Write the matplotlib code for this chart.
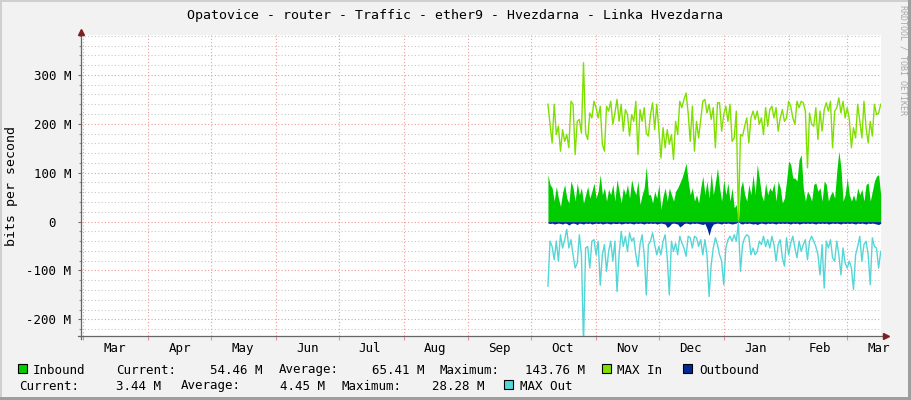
import numpy as np
import matplotlib
matplotlib.use('Agg')
import matplotlib.pyplot as plt
from matplotlib.patches import Rectangle
from matplotlib.ticker import MultipleLocator, FixedLocator

# ---- data (values in M bits per second, one value per day) ----
first_day = 222  # days after 1 Mar (9 Oct)

inbound = [96, 76, 69, 42, 72, 48, 31, 59, 76, 48,
           38, 83, 69, 42, 79, 55, 69, 38, 55, 72,
           48, 62, 79, 48, 62, 96, 55, 69, 42, 66,
           55, 76, 42, 86, 62, 38, 69, 55, 76, 48,
           86, 66, 55, 83, 35, 55, 69, 113, 55, 55,
           38, 62, 48, 76,
           25, 52, 69, 42, 69, 55, 42, 62, 69, 79,
           89, 103, 120, 83, 55, 69, 42, 55, 38, 69,
           93, 55, 83, 48, 100, 55, 79, 110, 69, 42,
           86, 55, 79, 42, 69, 28, 35, 0, 69, 83,
           55, 42, 76, 55, 96, 55, 117, 89, 55, 42,
           79, 55, 69, 62, 79,
           42, 83, 69, 38, 48, 83, 124, 117, 89, 89,
           83, 127, 137, 69, 42, 62, 55, 42, 76, 79,
           62, 69, 42, 83, 76, 42, 55, 62, 48, 103,
           143.76, 110, 42, 55, 89, 55, 42, 55, 42, 69,
           55, 66, 42, 76, 79, 42, 62, 83, 93, 96, 54.46]

max_in = [240, 199, 161, 240, 178, 195, 144, 188, 164, 178,
          151, 246, 240, 137, 205, 209, 181, 325, 181, 168,
          222, 212, 246, 233, 212, 236, 158, 144, 236, 226,
          246, 199, 222, 250, 205, 240, 185, 229, 219, 175,
          219, 205, 246, 137, 229, 205, 233, 181, 175, 219,
          243, 188, 240, 188,
          130, 192, 151, 188, 158, 178, 127, 205, 178, 246,
          233, 250, 263, 222, 164, 236, 144, 205, 171, 209,
          246, 250, 222, 240, 209, 233, 151, 243, 243, 185,
          219, 236, 205, 240, 164, 171, 226, 5, 178, 175,
          195, 212, 161, 212, 226, 209, 226, 199, 212, 178,
          233, 195, 229, 236, 212,
          233, 185, 212, 229, 205, 212, 246, 236, 212, 199,
          246, 233, 246, 243, 226, 110, 222, 199, 195, 233,
          168, 226, 185, 229, 243, 226, 246, 151, 226, 233,
          253, 222, 246, 212, 233, 209, 151, 192, 171, 240,
          205, 171, 246, 192, 161, 205, 175, 240, 219, 222, 240]

outbound = [3, 4, 3, 5, 4, 3, 4, 5, 3, 4,
            7, 4, 3, 4, 6, 3, 4, 5, 3, 4,
            3, 5, 4, 3, 4, 3, 5, 4, 3, 4,
            5, 3, 4, 4, 3, 5, 4, 3, 4, 3,
            4, 5, 3, 4, 3, 4, 5, 3, 4, 3,
            4, 3, 5, 4, 3, 4, 5, 12, 9, 4,
            3, 4, 5, 11, 8, 4, 3, 4, 5, 3,
            4, 3, 4, 5, 6, 4, 14, 28.28, 12, 5,
            4, 3, 4, 5, 3, 4, 3, 4, 5, 4,
            3, 0.5, 4, 5, 3, 4, 3, 4, 5, 4,
            6, 4, 3, 4, 5, 3, 4, 3, 4, 5,
            3, 4, 3, 4, 3, 4, 5, 3, 4, 3,
            5, 4, 3, 4, 3, 4, 3, 4, 5, 3,
            4, 3, 4, 3, 5, 4, 3, 4, 3, 4,
            5, 3, 4, 3, 4, 3, 4, 5, 3, 4,
            3, 4, 5, 3, 4, 3, 4, 5, 6, 3.44]

max_out = [132, 40, 51, 78, 40, 81, 27, 54, 37, 16,
           54, 37, 68, 95, 85, 27, 68, 250, 54, 51,
           95, 40, 37, 68, 40, 130, 68, 47, 102, 61,
           40, 81, 40, 143, 68, 20, 51, 30, 61, 23,
           40, 33, 68, 92, 47, 27, 68, 150, 47, 40,
           23, 47, 68, 51,
           68, 40, 27, 74, 150, 40, 61, 44, 68, 30,
           44, 54, 71, 30, 33, 54, 30, 33, 51, 37,
           68, 37, 68, 153, 88, 54, 33, 47, 68, 81,
           129, 54, 37, 30, 40, 27, 40, 3, 102, 47,
           33, 27, 30, 68, 54, 68, 61, 40, 47, 30,
           51, 37, 54, 30, 47,
           81, 47, 37, 74, 91, 33, 68, 44, 30, 54,
           74, 40, 61, 47, 37, 78, 40, 30, 40, 51,
           68, 109, 47, 136, 40, 54, 37, 74, 81, 40,
           68, 109, 54, 85, 95, 81, 95, 139, 68, 51,
           30, 81, 47, 40, 68, 129, 33, 51, 54, 95, 61]

month_names = ['Mar', 'Apr', 'May', 'Jun', 'Jul', 'Aug', 'Sep',
               'Oct', 'Nov', 'Dec', 'Jan', 'Feb', 'Mar']
month_lengths = [31, 30, 31, 30, 31, 31, 30, 31, 30, 31, 31, 28]

y_ticks = [-200, -100, 0, 100, 200, 300]
y_tick_labels = ['-200 M', '-100 M', '0  ', '100 M', '200 M', '300 M']

title = 'Opatovice - router - Traffic - ether9 - Hvezdarna - Linka Hvezdarna'

# legend rows: (label, x position in px)
legend_row1 = [('Inbound', 33), ('Current:', 116), ('Average:', 279), ('Maximum:', 440),
               ('MAX In', 617), ('Outbound', 699)]
legend_row1_nums = [('54.46 M', 263), ('65.41 M', 424), ('143.76 M', 585)]
legend_row2 = [('Current:', 19), ('Average:', 181), ('Maximum:', 342), ('MAX Out', 520)]
legend_row2_nums = [('3.44 M', 161), ('4.45 M', 325), ('28.28 M', 485)]

# ---- colours ----
c_in = '#00cc00'
c_maxin = '#7fe000'
c_out = '#002a97'
c_maxout = '#55d6d6'

W, H = 911, 400
MONO = 'DejaVu Sans Mono'

fig = plt.figure(figsize=(W / 100, H / 100), dpi=100, facecolor='#f2f2f2')


def fx(x):
    return x / W


def fy(y):
    return 1 - y / H


# plot area in px: x 80.5..880.5, y 35..336
ax = fig.add_axes([fx(80.5), fy(336), 800 / W, 301 / H])
ax.set_facecolor('white')

days = first_day + np.arange(len(inbound))
month_starts = np.concatenate([[0], np.cumsum(month_lengths)])

ax.fill_between(days, 0, inbound, color=c_in, lw=0, zorder=2)
ax.plot(days, max_in, color=c_maxin, lw=1.0, zorder=3)
ax.fill_between(days, 0, -np.array(outbound), color=c_out, lw=0, zorder=4)
ax.plot(days, -np.array(max_out), color=c_maxout, lw=1.0, zorder=5)

ax.set_xlim(-1.34, 380.9)
ax.set_ylim(-234, 381.6)

# grid
ax.set_axisbelow(True)
ax.xaxis.set_major_locator(FixedLocator(month_starts))
ax.xaxis.set_minor_locator(FixedLocator(month_starts + 15))
ax.set_xticklabels([], minor=False)
ax.set_xticklabels(month_names, minor=True, family=MONO, fontsize=9)
ax.yaxis.set_major_locator(FixedLocator(y_ticks))
ax.yaxis.set_minor_locator(MultipleLocator(20))
ax.set_yticklabels(y_tick_labels, family=MONO, fontsize=9)

ax.grid(which='major', axis='both', color='#f19a9a', lw=0.8, ls=(0, (1, 2)))
ax.grid(which='minor', axis='y', color='#c8c8c8', lw=0.8, ls=(0, (1, 2)))

ax.tick_params(axis='x', which='major', length=3, color='#e89090', width=0.8)
ax.tick_params(axis='x', which='minor', length=0, pad=4)
ax.tick_params(axis='y', which='major', length=2.5, color='#707070', width=0.8, pad=4)
ax.tick_params(axis='y', which='minor', length=1.5, color='#909090', width=0.8)

for s in ax.spines.values():
    s.set_visible(False)

# axes with arrows
axis_col = '#666666'
arrow_col = '#7f1f1f'
ax.plot([-3 / 800, 1 + 4 / 800], [0, 0], transform=ax.transAxes, color=axis_col,
        lw=0.9, clip_on=False, zorder=6)
ax.plot([0, 0], [-3 / 301, 1 + 2 / 301], transform=ax.transAxes, color=axis_col,
        lw=0.9, clip_on=False, zorder=6)
ax.plot([1 + 5 / 800], [0], marker='>', ms=4.5, color=arrow_col, transform=ax.transAxes,
        clip_on=False, zorder=7, mec=arrow_col)
ax.plot([0], [1 + 3 / 301], marker='^', ms=4.5, color=arrow_col, transform=ax.transAxes,
        clip_on=False, zorder=7, mec=arrow_col)

# texts
fig.text(fx(455), fy(19.5), title, ha='center', va='baseline', family=MONO, fontsize=9.5)
fig.text(fx(12), fy(186), 'bits per second', rotation=90, ha='center', va='center',
         family=MONO, fontsize=9.5)
fig.text(fx(903), fy(5), 'RRDTOOL / TOBI OETIKER', rotation=270, ha='center', va='top',
         family=MONO, fontsize=6, color='#a8a8a8')

for label, x in legend_row1:
    fig.text(fx(x), fy(373.5), label, ha='left', va='baseline', family=MONO, fontsize=9)
for label, x in legend_row1_nums:
    fig.text(fx(x), fy(373.5), label, ha='right', va='baseline', family=MONO, fontsize=9)
for label, x in legend_row2:
    fig.text(fx(x), fy(389.5), label, ha='left', va='baseline', family=MONO, fontsize=9)
for label, x in legend_row2_nums:
    fig.text(fx(x), fy(389.5), label, ha='right', va='baseline', family=MONO, fontsize=9)


def swatch(x, y, color):
    fig.add_artist(Rectangle((fx(x), fy(y + 9)), 9 / W, 9 / H, transform=fig.transFigure,
                             facecolor=color, edgecolor='black', lw=0.8))


swatch(18, 364, c_in)
swatch(602, 364, c_maxin)
swatch(683, 364, c_out)
swatch(504, 380, c_maxout)

# frame around the image
fig.add_artist(Rectangle((0, fy(2)), 1, 2 / H, transform=fig.transFigure,
                         facecolor='#cfcfcf', lw=0))
fig.add_artist(Rectangle((0, 0), 2 / W, 1, transform=fig.transFigure,
                         facecolor='#cfcfcf', lw=0))
fig.add_artist(Rectangle((0, 0), 1, 3 / H, transform=fig.transFigure,
                         facecolor='#9e9e9e', lw=0))
fig.add_artist(Rectangle((fx(908), 0), 3 / W, 1, transform=fig.transFigure,
                         facecolor='#9e9e9e', lw=0))

fig.savefig('out.png', dpi=100, facecolor=fig.get_facecolor())
